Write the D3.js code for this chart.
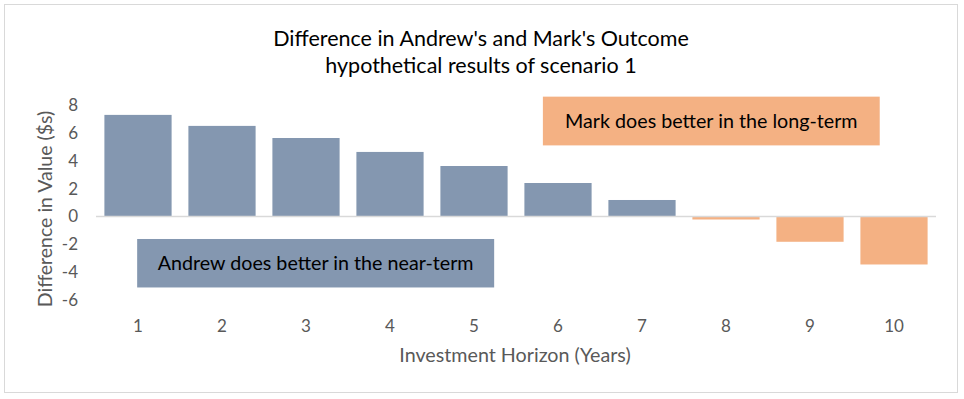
<!DOCTYPE html>
<html><head><meta charset="utf-8">
<script src="https://cdn.jsdelivr.net/npm/d3@7"></script>
<style>body{margin:0;background:#fff}svg{display:block}</style>
</head><body>
<script>
const categories = ["1","2","3","4","5","6","7","8","9","10"];
const values = [7.29, 6.5, 5.63, 4.63, 3.62, 2.4, 1.18, -0.22, -1.82, -3.45];
const yTicks = [-6,-4,-2,0,2,4,6,8];
const titleLines = ["Difference in Andrew's and Mark's Outcome", "hypothetical results of scenario 1"];
const yLabel = "Difference in Value ($s)";
const xLabel = "Investment Horizon (Years)";
const notes = [
  {text:"Mark does better in the long-term", color:"#f4b183", x0:5.32, x1:9.33, y0:8.6, y1:5.1},
  {text:"Andrew does better in the near-term", color:"#8497b0", x0:0.49, x1:4.74, y0:-1.62, y1:-5.1}
];

const W=964,H=399;
const svg=d3.select("body").append("svg").attr("width",W).attr("height",H);
const font="Lato, 'Open Sans', sans-serif";
svg.append("rect").attr("x",4.5).attr("y",4.5).attr("width",953).attr("height",388)
  .attr("fill","#fff").attr("stroke","#d9d9d9");

const x=d3.scaleBand().domain(categories).range([96,936]).paddingInner(0.2).paddingOuter(0.1);
const y=d3.scaleLinear().domain([-6,8]).range([300,105]);
const xc=d3.scaleLinear().domain([0,10]).range([96,936]);

// title
svg.append("g").selectAll("text").data(titleLines).join("text")
  .attr("x",481).attr("y",(d,i)=>46+i*26.5).attr("text-anchor","middle")
  .attr("font-family",font).attr("font-size",21.5).attr("fill","#000").text(d=>d);

// y ticks
svg.append("g").selectAll("text").data(yTicks).join("text")
  .attr("x",78).attr("y",d=>y(d)).attr("dy","0.35em").attr("text-anchor","end")
  .attr("font-family",font).attr("font-size",17).attr("fill","#595959").text(d=>d);

// bars
svg.append("g").selectAll("rect").data(values).join("rect")
  .attr("x",(d,i)=>x(categories[i])).attr("width",x.bandwidth())
  .attr("y",d=>y(Math.max(0,d))).attr("height",d=>Math.abs(y(d)-y(0)))
  .attr("fill",d=>d>=0?"#8497b0":"#f4b183");

// zero line
svg.append("line").attr("x1",96).attr("x2",936).attr("y1",y(0)).attr("y2",y(0))
  .attr("stroke","#d9d9d9").attr("stroke-width",1.5);

// x tick labels
svg.append("g").selectAll("text").data(categories).join("text")
  .attr("x",d=>x(d)+x.bandwidth()/2).attr("y",332).attr("text-anchor","middle")
  .attr("font-family",font).attr("font-size",17).attr("fill","#595959").text(d=>d);

// axis titles
svg.append("text").attr("transform","translate(52,209) rotate(-90)").attr("text-anchor","middle")
  .attr("font-family",font).attr("font-size",19.5).attr("fill","#595959").text(yLabel);
svg.append("text").attr("x",515).attr("y",362).attr("text-anchor","middle")
  .attr("font-family",font).attr("font-size",19.7).attr("fill","#595959").text(xLabel);

// annotation boxes
const ng=svg.append("g").selectAll("g").data(notes).join("g");
ng.append("rect").attr("x",d=>xc(d.x0)).attr("y",d=>y(d.y0))
  .attr("width",d=>xc(d.x1)-xc(d.x0)).attr("height",d=>y(d.y1)-y(d.y0)).attr("fill",d=>d.color);
ng.append("text").attr("x",d=>(xc(d.x0)+xc(d.x1))/2).attr("y",d=>(y(d.y0)+y(d.y1))/2)
  .attr("dy","0.35em").attr("text-anchor","middle")
  .attr("font-family",font).attr("font-size",19.7).attr("fill","#000").text(d=>d.text);
</script>
</body></html>
